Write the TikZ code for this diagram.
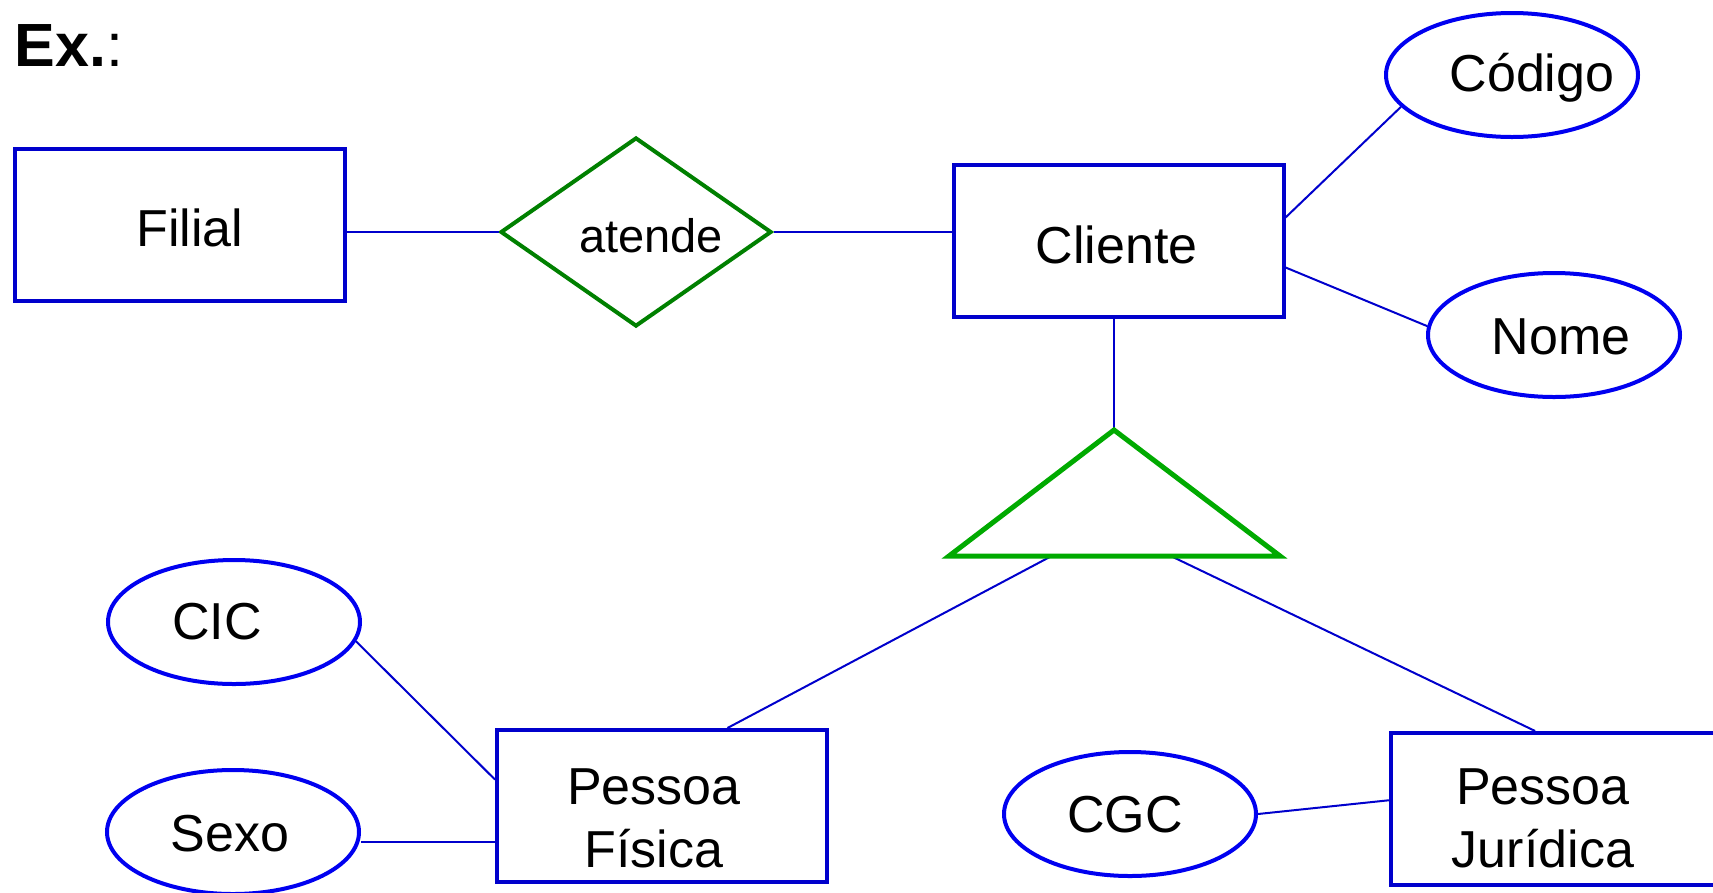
\documentclass[tikz,border=0pt]{standalone}
\usepackage{fontspec}
\setmainfont{Liberation Sans}
\usetikzlibrary{
  shapes.geometric,
  calc
}
\definecolor{erbox}{RGB}{0,0,204}
\definecolor{erattr}{RGB}{0,0,240}
\definecolor{erline}{RGB}{0,0,204}
\definecolor{errel}{RGB}{0,128,0}
\definecolor{erisa}{RGB}{0,170,0}
\newcommand{\erfont}{\fontsize{52}{63}\selectfont}

\begin{document}
\begin{tikzpicture}[x=1pt, y=-1pt,
  entity/.style={draw=erbox, line width=4pt, minimum width=330pt,
                 minimum height=152pt},
  attr/.style={draw=erattr, line width=4pt, ellipse, inner sep=0pt,
               minimum width=252pt, minimum height=124pt},
  relship/.style={draw=errel, line width=4pt, diamond, inner sep=0pt,
                  minimum width=271pt, minimum height=189pt},
  isa/.style={draw=erisa, line width=5pt, line join=miter},
  link/.style={draw=erline, line width=2pt},
  label/.style={font=\erfont, align=center, inner sep=0pt}]
  \clip (0,0) rectangle (1713,892);

  \node[anchor=base west, font=\fontsize{61}{61}\selectfont] (title)
    at (11,66) {\textbf{Ex.}:};

  % entities and relationship
  \node[entity] (filial) at (180,224.5) {};
  \node[relship] (atende) at (636,232) {};
  \node[entity] (cliente) at (1118.5,241) {};
  \node[entity] (pf) at (662,806) {};
  \node[entity] (pj) at (1556,809) {};

  % attributes
  \node[attr] (codigo) at (1512,75) {};
  \node[attr] (nome) at (1554,335) {};
  \node[attr] (cic) at (234,622) {};
  \node[attr] (sexo) at (233,832) {};
  \node[attr] (cgc) at (1130,814) {};

  % texts
  \node[label] at ($(filial.center)+(10,3)$) {Filial};
  \node[label, font=\fontsize{47}{56}\selectfont]
    at ($(atende.center)+(15,4)$) {atende};
  \node[label] at ($(cliente.center)+(-2,4)$) {Cliente};
  \node[label] at ($(pf.center)+(-8,12)$) {Pessoa\\Física};
  \node[label] at ($(pj.center)+(-13,9)$) {Pessoa\\Jurídica};
  \node[label] at ($(codigo.center)+(20,3)$) {Código};
  \node[label] at ($(nome.center)+(7,2)$) {Nome};
  \node[label] at ($(cic.center)+(-17,0)$) {CIC};
  \node[label] at ($(sexo.center)+(-3,2)$) {Sexo};
  \node[label] at ($(cgc.center)+(-5,1)$) {CGC};

  % specialization triangle
  \coordinate (isatop) at (1114,430);
  \coordinate (isaleft) at (949,556);
  \coordinate (isaright) at (1280,556);
  \coordinate (isafis) at ($(isaleft)!0.31!(isaright)$);
  \coordinate (isajur) at ($(isaleft)!0.67!(isaright)$);

  \draw[link] (atende.west) -- (atende.west -| filial.east);
  \draw[link] (atende.east) -- (atende.east -| cliente.west);
  \draw[link] (cliente.8) -- (codigo.196);
  \draw[link] (cliente.-9) -- (nome.176);
  \draw[link] (isatop) -- (isatop |- cliente.south);
  \draw[link] (isafis) -- (pf.50);
  \draw[link] (isajur) -- (pj.105);
  \draw[link] (cic.-9) -- (pf.171);
  \draw[link] (pf.192) -- (pf.192 -| sexo.east);
  \draw[link] (cgc.east) -- (pj.177);

  \draw[isa] (isatop) -- (isaleft) -- (isaright) -- cycle;
\end{tikzpicture}
\end{document}
